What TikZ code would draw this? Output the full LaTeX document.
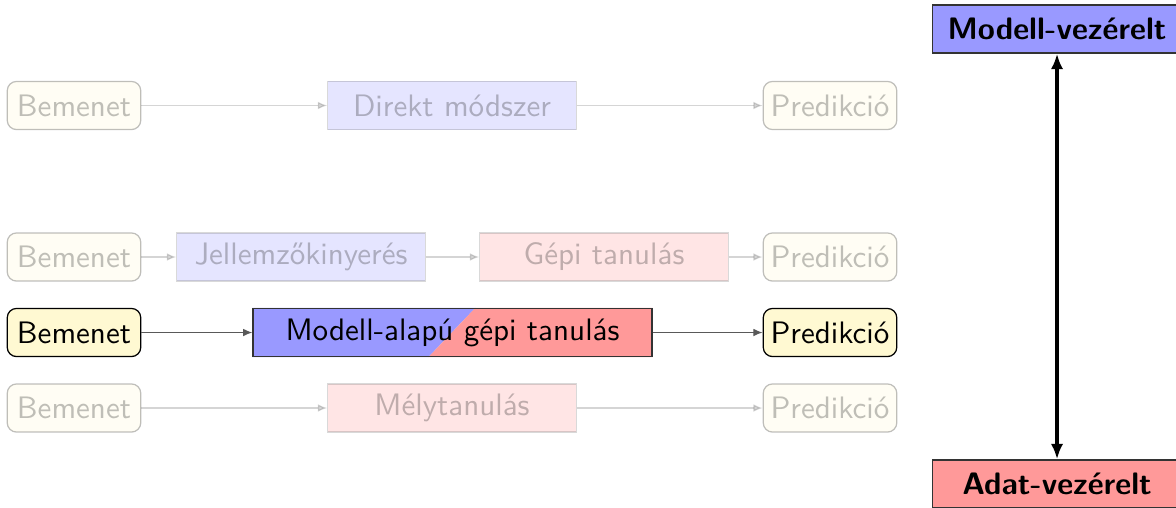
\documentclass[tikz,border=0pt]{standalone}
\usepackage{fontspec}
\usetikzlibrary{arrows.meta,calc,backgrounds}
\definecolor{iofill}{RGB}{255,249,210}
\begin{document}
\begin{tikzpicture}[x=0.322pt,y=-0.322pt,font=\sffamily,
  io/.style={draw=black,fill=iofill,rounded corners=3pt,minimum width=43pt,minimum height=15.5pt,inner sep=2pt},
  method/.style={draw=black!60,minimum width=80pt,minimum height=15.5pt,inner sep=2pt},
  faded/.style={opacity=0.25},
  conn/.style={-{Latex[length=3pt,width=2.5pt]},black!65},
  title/.style={draw=black!80,minimum width=80pt,minimum height=15.5pt,inner sep=2pt,font=\sffamily\bfseries}]
\useasboundingbox (0,0) rectangle (1176,507);
% row 1
\node[io,faded] (b1) at (74,105.5) {Bemenet};
\node[method,fill=blue!40,faded] (d1) at (452,105.5) {Direkt módszer};
\node[io,faded] (p1) at (830,105.5) {Predikció};
\draw[conn,faded] (b1) -- (d1);
\draw[conn,faded] (d1) -- (p1);
% row 2
\node[io,faded] (b2) at (74,257) {Bemenet};
\node[method,fill=blue!40,faded] (j2) at (301,257) {Jellemzőkinyerés};
\node[method,fill=red!40,faded] (g2) at (604,257) {Gépi tanulás};
\node[io,faded] (p2) at (830,257) {Predikció};
\draw[conn,faded] (b2) -- (j2);
\draw[conn,faded] (j2) -- (g2);
\draw[conn,faded] (g2) -- (p2);
% row 3
\node[io] (b3) at (74,332.5) {Bemenet};
\node[method,draw=black!80,minimum width=128.5pt] (m3) at (452.5,332.5) {Modell-alapú gépi tanulás};
\node[io] (p3) at (830,332.5) {Predikció};
\begin{scope}[on background layer]
\fill[blue!40] (m3.south west) -- (m3.north west) -- ($(m3.north west)+(223,0)$) -- ($(m3.south west)+(176,0)$) -- cycle;
\fill[red!40] ($(m3.south west)+(176,0)$) -- ($(m3.north west)+(223,0)$) -- (m3.north east) -- (m3.south east) -- cycle;
\end{scope}
\draw[conn] (b3) -- (m3);
\draw[conn] (m3) -- (p3);
% row 4
\node[io,faded] (b4) at (74,408) {Bemenet};
\node[method,fill=red!40,faded] (l4) at (452,408) {Mélytanulás};
\node[io,faded] (p4) at (830,408) {Predikció};
\draw[conn,faded] (b4) -- (l4);
\draw[conn,faded] (l4) -- (p4);
% right axis
\node[title,fill=blue!40] (mv) at (1057,29) {Modell-vezérelt};
\node[title,fill=red!40] (av) at (1057,484) {Adat-vezérelt};
\draw[{Latex[length=5pt,width=4pt]}-{Latex[length=5pt,width=4pt]},line width=1.1pt] (mv) -- (av);
\end{tikzpicture}
\end{document}
